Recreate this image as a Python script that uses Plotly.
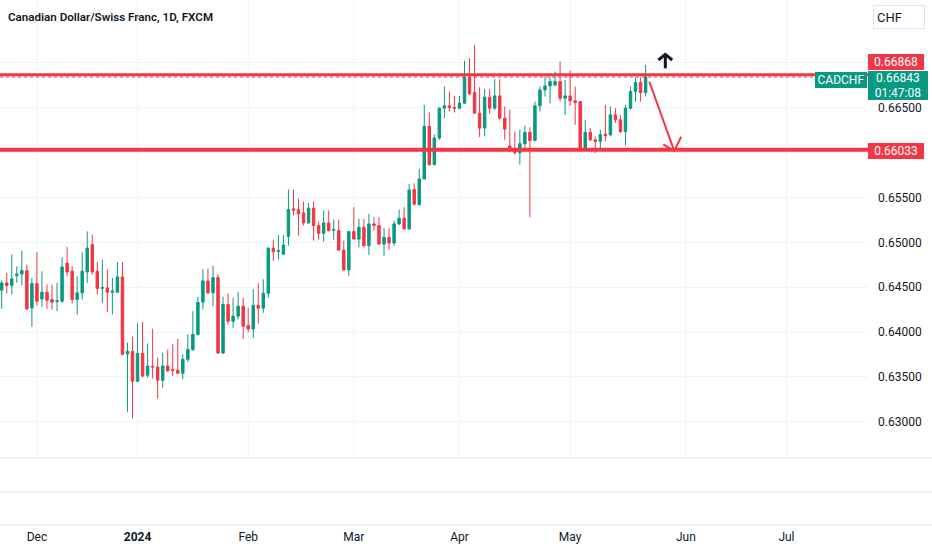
#!/usr/bin/env python
# -*- coding: utf-8 -*-

import pandas as pd
import plotly.graph_objects as go


# CADCHF daily bars (FXCM), 22 Nov 2023 .. 22 May 2024, no bar on 25 Dec / 1 Jan
FIRST_DAY = '2023-11-22'
LAST_DAY = '2024-05-22'
HOLIDAYS = ['2023-12-25', '2024-01-01']

OPEN = [
    0.64467, 0.64548, 0.64519, 0.64630, 0.64648, 0.64685, 0.64270, 0.64541, 0.64370, 0.64444,
    0.64363, 0.64341, 0.64344, 0.64770, 0.64678, 0.64363, 0.64437, 0.64670, 0.64974, 0.64678,
    0.64489, 0.64493, 0.64444, 0.64444, 0.64615, 0.63756, 0.63785, 0.63452, 0.63763, 0.63519,
    0.63619, 0.63611, 0.63463, 0.63622, 0.63585, 0.63574, 0.63541, 0.63696, 0.63807, 0.63974,
    0.64334, 0.64570, 0.64439, 0.64607, 0.63766, 0.64308, 0.64121, 0.64177, 0.64289, 0.64073,
    0.64035, 0.64297, 0.64267, 0.64432, 0.64936, 0.64899, 0.64869, 0.65067, 0.65374, 0.65366,
    0.65329, 0.65217, 0.65381, 0.65187, 0.65101, 0.65217, 0.65135, 0.65131, 0.64914, 0.64693,
    0.65120, 0.65037, 0.65168, 0.64963, 0.65206, 0.65187, 0.64981, 0.65056, 0.64993, 0.65206,
    0.65269, 0.65150, 0.65589, 0.65422, 0.65707, 0.66293, 0.65867, 0.66163, 0.66496, 0.66522,
    0.66504, 0.66496, 0.66552, 0.66841, 0.66670, 0.66441, 0.66274, 0.66619, 0.66496, 0.66633,
    0.66385, 0.66075, 0.66040, 0.66000, 0.66100, 0.66226, 0.66137, 0.66522, 0.66700, 0.66744,
    0.66756, 0.66793, 0.66607, 0.66633, 0.66578, 0.66570, 0.66033, 0.66226, 0.66144, 0.66126,
    0.66207, 0.66200, 0.66422, 0.66367, 0.66237, 0.66496, 0.66681, 0.66781, 0.66670,
]
HIGH = [
    0.64574, 0.64659, 0.64863, 0.64733, 0.64907, 0.64752, 0.64604, 0.64889, 0.64678, 0.64530,
    0.64530, 0.64548, 0.64837, 0.64948, 0.64733, 0.64622, 0.64889, 0.65122, 0.65085, 0.64781,
    0.64807, 0.64696, 0.64604, 0.64781, 0.64781, 0.63881, 0.63948, 0.64093, 0.64111, 0.63874,
    0.64037, 0.63715, 0.63770, 0.63807, 0.63870, 0.63926, 0.63752, 0.63974, 0.64233, 0.64394,
    0.64701, 0.64708, 0.64738, 0.64645, 0.64394, 0.64432, 0.64383, 0.64447, 0.64383, 0.64271,
    0.64476, 0.64544, 0.64589, 0.64944, 0.65030, 0.65082, 0.65082, 0.65591, 0.65591, 0.65486,
    0.65456, 0.65441, 0.65456, 0.65232, 0.65355, 0.65355, 0.65254, 0.65254, 0.65019, 0.65125,
    0.65393, 0.65262, 0.65262, 0.65318, 0.65281, 0.65281, 0.65157, 0.65157, 0.65243, 0.65366,
    0.65393, 0.65650, 0.65660, 0.65819, 0.66533, 0.66448, 0.66200, 0.66504, 0.66737, 0.66681,
    0.66633, 0.66633, 0.67026, 0.67052, 0.67200, 0.66730, 0.66707, 0.66707, 0.66819, 0.66819,
    0.66515, 0.66480, 0.66237, 0.66256, 0.66300, 0.66285, 0.66570, 0.66737, 0.66848, 0.66848,
    0.66904, 0.67015, 0.66811, 0.66915, 0.66737, 0.66575, 0.66367, 0.66274, 0.66181, 0.66256,
    0.66533, 0.66515, 0.66496, 0.66422, 0.66533, 0.66737, 0.66841, 0.66841, 0.66978,
]
LOW = [
    0.64259, 0.64430, 0.64419, 0.64548, 0.64522, 0.64244, 0.64059, 0.64296, 0.64281, 0.64259,
    0.64252, 0.64233, 0.64326, 0.64622, 0.64319, 0.64196, 0.64363, 0.64548, 0.64641, 0.64419,
    0.64326, 0.64222, 0.64196, 0.64437, 0.63740, 0.63111, 0.63037, 0.63440, 0.63493, 0.63493,
    0.63481, 0.63259, 0.63381, 0.63560, 0.63511, 0.63530, 0.63474, 0.63667, 0.63789, 0.63960,
    0.64252, 0.64420, 0.64289, 0.63760, 0.63758, 0.64084, 0.64046, 0.64140, 0.63923, 0.63998,
    0.63934, 0.64095, 0.64215, 0.64383, 0.64794, 0.64806, 0.64858, 0.64963, 0.65299, 0.65075,
    0.65187, 0.65206, 0.65019, 0.65030, 0.65007, 0.65120, 0.65030, 0.64905, 0.64690, 0.64626,
    0.65030, 0.64944, 0.64944, 0.64858, 0.65131, 0.64975, 0.64850, 0.64918, 0.64963, 0.65194,
    0.65142, 0.65142, 0.65411, 0.65411, 0.65700, 0.65856, 0.65856, 0.66144, 0.66385, 0.66459,
    0.66448, 0.66485, 0.66544, 0.66644, 0.66433, 0.66174, 0.66181, 0.66433, 0.66478, 0.66367,
    0.66144, 0.66010, 0.65978, 0.65867, 0.66015, 0.65283, 0.66126, 0.66459, 0.66626, 0.66552,
    0.66737, 0.66570, 0.66422, 0.66522, 0.66311, 0.66026, 0.66015, 0.66126, 0.65996, 0.66052,
    0.66126, 0.66181, 0.66330, 0.66219, 0.66078, 0.66485, 0.66570, 0.66570, 0.66626,
]
CLOSE = [
    0.64548, 0.64519, 0.64593, 0.64648, 0.64685, 0.64259, 0.64541, 0.64344, 0.64444, 0.64356,
    0.64333, 0.64348, 0.64726, 0.64670, 0.64363, 0.64437, 0.64678, 0.64937, 0.64670, 0.64485,
    0.64496, 0.64444, 0.64456, 0.64615, 0.63752, 0.63785, 0.63452, 0.63763, 0.63511, 0.63622,
    0.63611, 0.63463, 0.63622, 0.63567, 0.63574, 0.63541, 0.63696, 0.63807, 0.63974, 0.64330,
    0.64570, 0.64439, 0.64607, 0.63766, 0.64308, 0.64121, 0.64177, 0.64289, 0.64065, 0.64035,
    0.64297, 0.64267, 0.64432, 0.64936, 0.64895, 0.64907, 0.64970, 0.65366, 0.65359, 0.65318,
    0.65217, 0.65381, 0.65187, 0.65101, 0.65217, 0.65131, 0.65142, 0.64914, 0.64693, 0.65120,
    0.65037, 0.65168, 0.64963, 0.65206, 0.65187, 0.64981, 0.65056, 0.64993, 0.65206, 0.65269,
    0.65150, 0.65585, 0.65426, 0.65707, 0.66293, 0.65867, 0.66163, 0.66496, 0.66522, 0.66504,
    0.66496, 0.66552, 0.66841, 0.66656, 0.66441, 0.66274, 0.66619, 0.66496, 0.66633, 0.66385,
    0.66263, 0.66035, 0.66000, 0.66100, 0.66226, 0.66137, 0.66522, 0.66700, 0.66744, 0.66793,
    0.66793, 0.66607, 0.66633, 0.66578, 0.66559, 0.66033, 0.66226, 0.66144, 0.66126, 0.66200,
    0.66189, 0.66422, 0.66367, 0.66237, 0.66496, 0.66681, 0.66781, 0.66670, 0.66843,
]

TITLE = 'Canadian Dollar/Swiss Franc, 1D, FXCM'
SYMBOL = 'CADCHF'
CURRENCY = 'CHF'
COUNTDOWN = '01:47:08'
RESISTANCE = 0.66868
SUPPORT = 0.66033

# first bar of every month (bars sit at noon)
MONTH_TICKS = ['2023-12-01 12:00', '2024-01-02 12:00', '2024-02-01 12:00', '2024-03-01 12:00',
               '2024-04-01 12:00', '2024-05-01 12:00', '2024-06-03 12:00', '2024-07-01 12:00']
MONTH_LABELS = ['Dec', '<b>2024</b>', 'Feb', 'Mar', 'Apr', 'May', 'Jun', 'Jul']
PRICE_TICKS = [0.630, 0.635, 0.640, 0.645, 0.650, 0.655, 0.660, 0.665, 0.670]

# hand drawn arrows (time, price)
UP_STEM_X = ['2024-05-28 10:00', '2024-05-28 10:00']
UP_STEM_Y = [0.66940, 0.67096]
UP_HEAD_X = ['2024-05-27 01:00', '2024-05-28 10:00', '2024-05-29 19:00']
UP_HEAD_Y = [0.67033, 0.67096, 0.67033]
DOWN_X = ['2024-05-23 06:00', '2024-05-30 04:48']
DOWN_Y = [0.66791, 0.66018]
DOWN_HEAD_X = ['2024-05-28 00:29', '2024-05-30 04:48', '2024-05-31 13:26']
DOWN_HEAD_Y = [0.66093, 0.66018, 0.66178]

UP = '#089981'
DOWN = '#F23645'
TEXT = '#131722'
GRID = '#f0f3fa'
BORDER = '#e0e3eb'
FONT = 'Roboto'

# main pane ends at 458px, two empty indicator panes below (plot area is 525px high)
PANES = [0.1276, 0.0629, 0.0]


def main():

    assert len(OPEN) == len(HIGH) == len(LOW) == len(CLOSE)

    days = pd.bdate_range(FIRST_DAY, LAST_DAY)
    days = days[~days.isin(pd.to_datetime(HOLIDAYS))]
    dates = days + pd.Timedelta(hours = 12)
    assert len(dates) == len(OPEN)

    traces = [go.Candlestick(
        x = dates,
        open = OPEN,
        high = HIGH,
        low = LOW,
        close = CLOSE,
        increasing = dict(line = dict(color = UP, width = 1), fillcolor = UP),
        decreasing = dict(line = dict(color = DOWN, width = 1), fillcolor = DOWN),
        hoverinfo = 'skip',
        showlegend = False,
    )]

    for xs, ys, color, width in [
        (UP_STEM_X, UP_STEM_Y, TEXT, 3),
        (UP_HEAD_X, UP_HEAD_Y, TEXT, 3),
        (DOWN_X, DOWN_Y, DOWN, 2),
        (DOWN_HEAD_X, DOWN_HEAD_Y, DOWN, 2),
    ]:
        traces.append(go.Scatter(
            x = xs, y = ys, mode = 'lines',
            line = dict(color = color, width = width),
            hoverinfo = 'skip', showlegend = False,
        ))

    # month grid only inside the price pane
    shapes = []
    for t in MONTH_TICKS:
        shapes.append(dict(type = 'line', xref = 'x', yref = 'y domain', x0 = t, x1 = t,
                           y0 = 0, y1 = 1, layer = 'below',
                           line = dict(color = GRID, width = 1)))

    # support / resistance across the pane, dotted last price line, pane separators
    shapes += [
        dict(type = 'line', xref = 'x domain', yref = 'y', x0 = 0, x1 = 1,
             y0 = RESISTANCE, y1 = RESISTANCE, line = dict(color = DOWN, width = 3)),
        dict(type = 'line', xref = 'x domain', yref = 'y', x0 = 0, x1 = 1,
             y0 = SUPPORT, y1 = SUPPORT, line = dict(color = DOWN, width = 4)),
        dict(type = 'line', xref = 'x domain', yref = 'y', x0 = 0, x1 = 1,
             y0 = CLOSE[-1], y1 = CLOSE[-1], line = dict(color = DOWN, width = 1, dash = 'dot')),
    ]
    for yy in PANES:
        shapes.append(dict(type = 'line', xref = 'paper', yref = 'paper',
                           x0 = 0, x1 = 1.08, y0 = yy, y1 = yy,
                           line = dict(color = BORDER, width = 1)))

    # price scale labels hidden where a price tag sits on top of them
    tags = [RESISTANCE, CLOSE[-1], SUPPORT]
    price_text = []
    for v in PRICE_TICKS:
        hidden = min(abs(v - t) for t in tags) < 0.0015 or v > RESISTANCE
        price_text.append('' if hidden else '%.5f' % v)

    label = dict(xref = 'paper', yref = 'y', showarrow = False,
                 font = dict(family = FONT, size = 12, color = 'white'),
                 borderpad = 2, borderwidth = 0)
    annotations = [
        dict(text = TITLE, xref = 'paper', yref = 'paper', x = 6 / 868, y = 1 - 17 / 525,
             xanchor = 'left', yanchor = 'middle', showarrow = False,
             font = dict(family = FONT, size = 11.6, color = TEXT, weight = 600)),
        dict(text = CURRENCY, xref = 'paper', yref = 'paper', x = 873 / 868, y = 1 - 5 / 525,
             xanchor = 'left', yanchor = 'top', showarrow = False, align = 'left',
             width = 44, height = 16, borderpad = 3, borderwidth = 1,
             bordercolor = BORDER, bgcolor = 'white',
             font = dict(family = FONT, size = 13, color = TEXT)),
        dict(label, text = '%.5f' % RESISTANCE, x = 1.0, y = RESISTANCE, yshift = 13,
             xanchor = 'left', width = 52, height = 12, bgcolor = DOWN),
        dict(label, text = '%.5f<br>%s' % (CLOSE[-1], COUNTDOWN), x = 1.0, y = CLOSE[-1],
             yshift = -8.5, xanchor = 'left', width = 56, height = 25, bgcolor = UP),
        dict(label, text = SYMBOL, x = 866.7 / 868, y = CLOSE[-1], yshift = -2.5,
             xanchor = 'right', width = 48, height = 12, bgcolor = UP),
        dict(label, text = '%.5f' % SUPPORT, x = 1.0, y = SUPPORT, yshift = -1,
             xanchor = 'left', width = 52, height = 12, bgcolor = DOWN),
    ]

    layout = go.Layout(
        width = 932,
        height = 550,
        margin = dict(l = 0, r = 64, t = 0, b = 25),
        paper_bgcolor = 'white',
        plot_bgcolor = 'white',
        showlegend = False,
        xaxis = dict(
            type = 'date',
            anchor = 'free',
            position = 0,
            range = ['2023-11-22 03:50', '2024-07-23 17:00'],
            rangebreaks = [dict(bounds = ['sat', 'mon']), dict(values = HOLIDAYS)],
            rangeslider = dict(visible = False),
            tickvals = MONTH_TICKS,
            ticktext = MONTH_LABELS,
            showgrid = False,
            zeroline = False,
            showline = False,
            ticks = '',
            ticklabelstandoff = 3,
            tickfont = dict(family = FONT, size = 12, color = TEXT),
        ),
        yaxis = dict(
            domain = [PANES[0], 1.0],
            side = 'right',
            range = [0.62596, 0.67702],
            tickvals = PRICE_TICKS,
            ticktext = price_text,
            showgrid = True,
            gridcolor = GRID,
            gridwidth = 1,
            zeroline = False,
            ticks = '',
            ticklabelstandoff = 9,
            tickfont = dict(family = FONT, size = 12, color = TEXT),
        ),
        shapes = shapes,
        annotations = annotations,
    )

    fig = go.Figure(data = traces, layout = layout)

    fig.write_html(
        'out.html',
        config = dict(displayModeBar = False),
        post_script = "document.body.style.margin = '0'; document.body.style.overflow = 'hidden';",
    )


if __name__ == '__main__':
    main()
